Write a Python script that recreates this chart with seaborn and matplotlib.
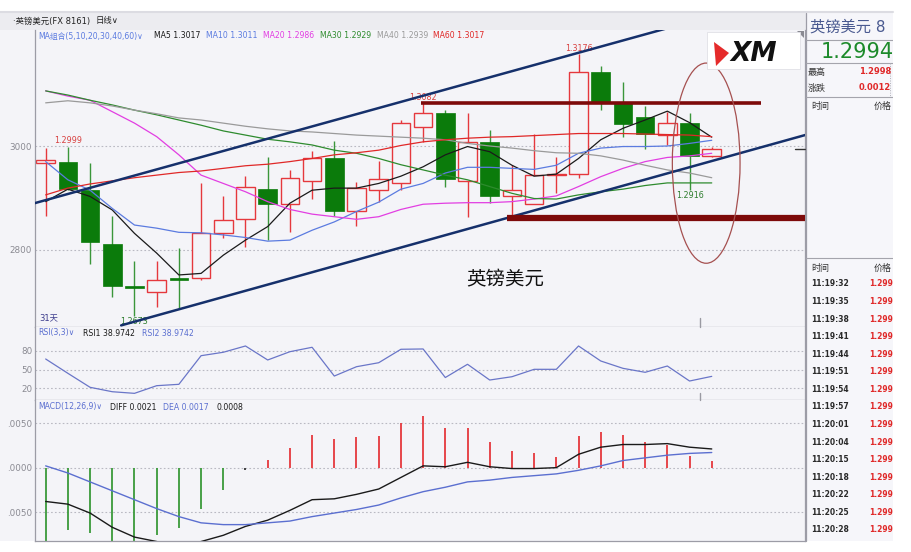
import numpy as np
import pandas as pd
import matplotlib
matplotlib.use("Agg")
import matplotlib.pyplot as plt
import seaborn as sns
from matplotlib.patches import Rectangle, Ellipse, Polygon

sns.set_theme(style="white")
plt.rcParams["font.family"] = ["DejaVu Sans", "Noto Sans CJK SC"]
plt.rcParams["axes.unicode_minus"] = False

# 英镑美元 日线 (31 根K线)
opens = [1.2967, 1.2970, 1.2915, 1.2811, 1.2731, 1.2720, 1.2747, 1.2747, 1.2833, 1.2859,
         1.2917, 1.2888, 1.2933, 1.2976, 1.2875, 1.2915, 1.2928, 1.3037, 1.3064, 1.2933,
         1.3008, 1.2903, 1.2889, 1.2945, 1.2946, 1.3142, 1.3082, 1.3056, 1.3021, 1.3044,
         1.2981]
highs = [1.2997, 1.2999, 1.2968, 1.2866, 1.2779, 1.2779, 1.2804, 1.2928, 1.2903, 1.2943,
         1.2978, 1.2954, 1.2991, 1.3010, 1.2931, 1.2972, 1.3050, 1.3082, 1.3069, 1.3064,
         1.3031, 1.2964, 1.3024, 1.2979, 1.3176, 1.3153, 1.3124, 1.3076, 1.3066, 1.3064,
         1.2998]
lows = [1.2866, 1.2916, 1.2774, 1.2710, 1.2673, 1.2690, 1.2686, 1.2742, 1.2823, 1.2805,
        1.2819, 1.2835, 1.2899, 1.2866, 1.2847, 1.2892, 1.2915, 1.3008, 1.2922, 1.2863,
        1.2890, 1.2864, 1.2888, 1.2909, 1.2938, 1.3069, 1.3018, 1.2994, 1.3002, 1.2916,
        1.2978]
closes = [1.2974, 1.2917, 1.2815, 1.2731, 1.2726, 1.2742, 1.2742, 1.2833, 1.2858, 1.2921,
          1.2888, 1.2938, 1.2976, 1.2875, 1.2919, 1.2936, 1.3045, 1.3063, 1.2936, 1.3008,
          1.2903, 1.2915, 1.2944, 1.2946, 1.3143, 1.3082, 1.3042, 1.3023, 1.3045, 1.2981,
          1.2994]

ma5 = [1.2893, 1.2917, 1.2903, 1.2877, 1.2832, 1.2794, 1.2752, 1.2755, 1.2790, 1.2819,
       1.2845, 1.2890, 1.2915, 1.2919, 1.2919, 1.2928, 1.2942, 1.2960, 1.2983, 1.2999,
       1.2989, 1.2963, 1.2942, 1.2946, 1.2976, 1.3012, 1.3034, 1.3050, 1.3067, 1.3045,
       1.3017]
ma10 = [1.2970, 1.2935, 1.2915, 1.2880, 1.2848, 1.2842, 1.2834, 1.2833, 1.2829, 1.2824,
        1.2817, 1.2819, 1.2838, 1.2854, 1.2874, 1.2892, 1.2917, 1.2928, 1.2948, 1.2959,
        1.2959, 1.2957, 1.2955, 1.2963, 1.2986, 1.2996, 1.2999, 1.2999, 1.3000, 1.3005,
        1.3011]
ma20 = [1.3106, 1.3096, 1.3088, 1.3066, 1.3044, 1.3018, 1.2983, 1.2944, 1.2928, 1.2912,
        1.2893, 1.2878, 1.2869, 1.2864, 1.2859, 1.2864, 1.2878, 1.2888, 1.2890, 1.2891,
        1.2891, 1.2893, 1.2898, 1.2904, 1.2922, 1.2941, 1.2957, 1.2970, 1.2978, 1.2981,
        1.2986]
ma30 = [1.3106, 1.3098, 1.3088, 1.3079, 1.3069, 1.3060, 1.3050, 1.3040, 1.3029, 1.3021,
        1.3013, 1.3008, 1.3002, 1.2992, 1.2986, 1.2976, 1.2964, 1.2954, 1.2944, 1.2935,
        1.2922, 1.2909, 1.2899, 1.2898, 1.2906, 1.2912, 1.2917, 1.2924, 1.2929, 1.2929,
        1.2929]
ma40 = [1.3083, 1.3087, 1.3083, 1.3077, 1.3069, 1.3062, 1.3054, 1.3050, 1.3044, 1.3038,
        1.3033, 1.3029, 1.3027, 1.3024, 1.3021, 1.3019, 1.3017, 1.3015, 1.3012, 1.3005,
        1.3000, 1.2996, 1.2991, 1.2987, 1.2986, 1.2981, 1.2973, 1.2963, 1.2954, 1.2948,
        1.2939]
ma60 = [1.2906, 1.2919, 1.2927, 1.2933, 1.2939, 1.2944, 1.2949, 1.2952, 1.2957, 1.2962,
        1.2965, 1.2970, 1.2976, 1.2983, 1.2987, 1.2992, 1.3001, 1.3008, 1.3012, 1.3015,
        1.3017, 1.3018, 1.3020, 1.3022, 1.3024, 1.3024, 1.3024, 1.3023, 1.3022, 1.3021,
        1.3018]

ma_names = ["MA5", "MA10", "MA20", "MA30", "MA40", "MA60"]
ma_last = ["1.3017", "1.3011", "1.2986", "1.2929", "1.2939", "1.3017"]
ma_colors = ["#1a1a1a", "#5b7be0", "#e23ee2", "#2e8b2e", "#9a9a9a", "#e02828"]

rsi = [66.9, 43.9, 21.4, 14.3, 11.7, 24.0, 26.2, 72.2, 77.7, 87.8,
       65.3, 78.6, 85.7, 39.5, 54.5, 60.9, 82.5, 83.0, 37.1, 58.4,
       33.1, 38.4, 50.3, 50.3, 87.8, 63.7, 51.9, 45.5, 55.6, 31.5,
       38.97]
rsi_last = "38.9742"

diff = [-0.0038, -0.0041, -0.0051, -0.0067, -0.0078, -0.0083, -0.0090, -0.0083, -0.0076, -0.0066,
        -0.0059, -0.0048, -0.0036, -0.0035, -0.0030, -0.0024, -0.0011, 0.0002, 0.0001, 0.0006,
        0.0001, -0.0001, -0.0001, 0.0000, 0.0015, 0.0023, 0.0026, 0.0026, 0.0027, 0.0023,
        0.0021]
dea = [0.0002, -0.0006, -0.0016, -0.0026, -0.0036, -0.0046, -0.0055, -0.0062, -0.0064, -0.0064,
       -0.0062, -0.0060, -0.0055, -0.0051, -0.0047, -0.0042, -0.0034, -0.0027, -0.0022, -0.0016,
       -0.0014, -0.0011, -0.0009, -0.0007, -0.0003, 0.0002, 0.0008, 0.0011, 0.0014, 0.0016,
       0.0017]
macd_bar = [-0.0082, -0.0070, -0.0073, -0.0082, -0.0084, -0.0076, -0.0068, -0.0046, -0.0025, -0.0003,
            0.0009, 0.0022, 0.0037, 0.0032, 0.0034, 0.0035, 0.0050, 0.0058, 0.0045, 0.0045,
            0.0029, 0.0019, 0.0016, 0.0012, 0.0036, 0.0040, 0.0037, 0.0029, 0.0026, 0.0013,
            0.0008]

# 标注
peak_labels = [(1, "1.2999", "high"), (4, "1.2673", "low"), (17, "1.3082", "high"),
               (24, "1.3176", "high"), (29, "1.2916", "low")]
upper_channel = ([-0.5, 31.0], [1.2890, 1.3262])
lower_channel = ([3.4, 34.2], [1.2655, 1.3021])
resist_line = ([16.9, 32.2], 1.3082)
support_line = ([20.8, 34.2], 1.2862)

tick_times = ["11:19:32", "11:19:35", "11:19:38", "11:19:41", "11:19:44", "11:19:51", "11:19:54",
              "11:19:57", "11:20:01", "11:20:04", "11:20:15", "11:20:18", "11:20:22", "11:20:25",
              "11:20:28"]
tick_prices = ["1.299"] * len(tick_times)

BG = "#f4f4f8"
GRID = "#b9b9c2"
RED = "#e5383d"
GREEN = "#0b7b0b"
SPINE = "#9c9ca6"
W, H = 912, 552


def box(x0, y0, x1, y1):
    return [x0 / W, 1 - y1 / H, (x1 - x0) / W, (y1 - y0) / H]


fig = plt.figure(figsize=(W / 100, H / 100), dpi=100, facecolor="white")

back = fig.add_axes([0, 0, 1, 1], zorder=-5)
back.set_xlim(0, W)
back.set_ylim(H, 0)
back.axis("off")
back.add_patch(Rectangle((0, 30), 893, 511, facecolor=BG, edgecolor="none"))
back.add_patch(Rectangle((0, 11), 893, 19, facecolor="#ececf0", edgecolor="none"))
back.add_patch(Rectangle((806, 13), 87, 528, facecolor="#f6f6fa", edgecolor="none"))

ax = fig.add_axes(box(35, 30, 805, 327))
ax_rsi = fig.add_axes(box(35, 327, 805, 400))
ax_macd = fig.add_axes(box(35, 400, 805, 541))

idx = np.arange(len(opens))
xlim = (-0.48, 34.2)

# K线
for i in idx:
    o, h, l, c = opens[i], highs[i], lows[i], closes[i]
    up = c >= o
    col = RED if up else GREEN
    ax.vlines(i, l, h, color=col if up else "#3a963a", lw=1, zorder=1)
    bottom = min(o, c)
    height = max(abs(c - o), 0.00008)
    if up:
        ax.add_patch(Rectangle((i - 0.42, bottom), 0.84, height, facecolor="none",
                               edgecolor=col, lw=1, zorder=2))
        # 空心实体: 遮住影线
        ax.add_patch(Rectangle((i - 0.42, bottom), 0.84, height, facecolor=BG,
                               edgecolor="none", zorder=1.5))
    else:
        ax.add_patch(Rectangle((i - 0.42, bottom), 0.84, height, facecolor=GREEN,
                               edgecolor=GREEN, lw=0.5, zorder=2))

# 均线
for name, vals, col in zip(ma_names, [ma5, ma10, ma20, ma30, ma40, ma60], ma_colors):
    sns.lineplot(x=idx, y=vals, color=col, lw=0.9, ax=ax, zorder=4)

# 通道线 / 支撑阻力
ax.plot(*upper_channel, color="#15306b", lw=1.8, zorder=5)
ax.plot(*lower_channel, color="#15306b", lw=1.8, zorder=5)
ax.hlines(resist_line[1], *resist_line[0], color="#7d0a0a", lw=2.6, zorder=5)
ax.hlines(support_line[1], *support_line[0], color="#7d0a0a", lw=4.5, zorder=5)
ax.add_patch(Ellipse((29.75, 1.2967), 3.05, 0.0385, facecolor="none",
                     edgecolor="#a55050", lw=0.9, zorder=6))
ax.plot([33.75, 34.2], [closes[-1]] * 2, color="#333333", lw=1, zorder=6, clip_on=False)

for i, txt, kind in peak_labels:
    if kind == "high":
        ax.annotate(txt, (i, highs[i]), xytext=(0, 1), textcoords="offset points",
                    ha="center", va="bottom", fontsize=5.8, color="#d84040")
    else:
        ax.annotate(txt, (i, lows[i]), xytext=(0, -1), textcoords="offset points",
                    ha="center", va="top", fontsize=5.8, color="#2e7d2e")

ax.text(20.7, 1.2742, "英镑美元", fontsize=14, color="#111111", ha="center", va="center")
ax.text(0.005, 0.03, "31天", transform=ax.transAxes, fontsize=6, color="#3b3b8c",
        ha="left", va="center")

ax.set_xlim(*xlim)
ax.set_ylim(1.26519, 1.32231)
ax.set_yticks([1.28, 1.30])
ax.set_yticklabels(["2800", "3000"])

# RSI
sns.lineplot(x=idx, y=rsi, color="#6a76c8", lw=0.9, ax=ax_rsi)
ax_rsi.set_xlim(*xlim)
ax_rsi.set_ylim(1.0, 118.3)
ax_rsi.set_yticks([20, 50, 80])
ax_rsi.set_yticklabels(["20", "50", "80"])

# MACD
bar_cols = ["#333333" if abs(v) < 0.0005 else (RED if v > 0 else "#3a9a3a") for v in macd_bar]
ax_macd.vlines(idx, 0, macd_bar, colors=bar_cols, lw=1.3, zorder=2)
sns.lineplot(x=idx, y=diff, color="#1a1a1a", lw=1.0, ax=ax_macd, zorder=3)
sns.lineplot(x=idx, y=dea, color="#5b6fd0", lw=1.0, ax=ax_macd, zorder=3)
ax_macd.set_xlim(*xlim)
ax_macd.set_ylim(-0.00824, 0.0076)
ax_macd.set_yticks([-0.005, 0.0, 0.005])
ax_macd.set_yticklabels([".0050", ".0000", ".0050"])

for a in (ax, ax_rsi, ax_macd):
    a.set_facecolor(BG)
    a.set_xticks([])
    a.set_xlabel("")
    a.set_ylabel("")
    a.grid(axis="y", linestyle=(0, (1.5, 2)), color=GRID, lw=0.8)
    a.tick_params(axis="y", length=0, pad=2, labelsize=6.3, labelcolor="#8a8a92")
    a.spines["top"].set_visible(False)
    for s in ("left", "right", "bottom"):
        a.spines[s].set_color(SPINE)
        a.spines[s].set_linewidth(0.9)

# 叠加层: 标题与图例文字
over = fig.add_axes([0, 0, 1, 1], zorder=10)
over.set_xlim(0, W)
over.set_ylim(H, 0)
over.axis("off")
over.patch.set_alpha(0)
over.plot([0, 893], [12, 12], color="#dcdce2", lw=1.5)
over.text(13, 21, "·英镑美元(FX 8161)", fontsize=6, color="#222222", va="center")
over.text(96, 21, "日线∨", fontsize=6, color="#222222", va="center")

over.text(38, 36, "MA组合(5,10,20,30,40,60)∨", fontsize=5.6, color="#5b7be0", va="center")
for x, name, val, col in zip([154, 206, 263, 320, 377, 433], ma_names, ma_last, ma_colors):
    over.text(x, 36, f"{name} {val}", fontsize=5.6, color=col, va="center")

over.text(38, 333, "RSI(3,3)∨", fontsize=5.6, color="#5b6fd0", va="center")
over.text(83, 333, f"RSI1 {rsi_last}", fontsize=5.6, color="#1a1a1a", va="center")
over.text(142, 333, f"RSI2 {rsi_last}", fontsize=5.6, color="#5b6fd0", va="center")

over.text(38, 407, "MACD(12,26,9)∨", fontsize=5.6, color="#5b6fd0", va="center")
over.text(110, 407, f"DIFF {diff[-1]:.4f}", fontsize=5.6, color="#1a1a1a", va="center")
over.text(163, 407, f"DEA {dea[-1]:.4f}", fontsize=5.6, color="#5b6fd0", va="center")
over.text(217, 407, f"{macd_bar[-1]:.4f}", fontsize=5.6, color="#1a1a1a", va="center")

# 光标刻度
over.plot([700, 700], [318, 327], color="#9a9aa2", lw=1)
over.plot([700, 700], [393, 400], color="#9a9aa2", lw=1)
over.plot([806, 806], [13, 541], color=SPINE, lw=0.9)
over.add_patch(Polygon([[797, 31], [804, 31], [804, 38]], closed=True,
                       facecolor="#8a8a92", edgecolor="none"))

# XM 标志
over.add_patch(Rectangle((707, 32), 93, 37, facecolor="white", edgecolor="#e0e0e6", lw=0.6))
over.add_patch(Polygon([[714, 42], [729, 53], [716, 66]], closed=True,
                       facecolor="#e52b2b", edgecolor="none"))
over.text(754, 54, "XM", fontsize=19, fontweight="heavy", fontstyle="italic",
          color="#111111", ha="center", va="center")

# 右侧行情面板
side = fig.add_axes(box(806, 0, 893, 552), zorder=11)
side.set_xlim(806, 893)
side.set_ylim(H, 0)
side.axis("off")
side.patch.set_alpha(0)
for y in (40, 63, 97, 258):
    side.plot([806, 893], [y, y], color="#a4a4ac", lw=0.8)
side.plot([890, 890], [63, 97], color="#b0b0b8", lw=0.7, linestyle=(0, (1, 1.5)))
side.text(810, 27, "英镑美元 8", fontsize=11, color="#4a5a90", va="center")
side.text(821, 52, f"{closes[-1]:.4f}", fontsize=15, color="#1c8a2a", va="center")
side.text(808, 72, "最高", fontsize=6.5, color="#333333", va="center")
side.text(859, 72, f"{highs[-1]:.4f}", fontsize=6, color="#e02828", fontweight="bold", va="center")
side.text(808, 88, "涨跌", fontsize=6.5, color="#333333", va="center")
side.text(859, 88, "0.0012", fontsize=6, color="#e02828", fontweight="bold", va="center")
side.text(811, 106, "时间", fontsize=6.5, color="#333333", va="center")
side.text(874, 106, "价格", fontsize=6.5, color="#333333", va="center")
side.text(811, 268, "时间", fontsize=6.5, color="#333333", va="center")
side.text(874, 268, "价格", fontsize=6.5, color="#333333", va="center")
for k, (t, p) in enumerate(zip(tick_times, tick_prices)):
    y = 284 + 17.57 * k
    side.text(811, y, t, fontsize=5.5, color="#2a2a2a", fontweight="bold", va="center")
    side.text(869, y, p, fontsize=5.5, color="#e02828", fontweight="bold", va="center")

fig.savefig("out.png", dpi=100, facecolor="white")
